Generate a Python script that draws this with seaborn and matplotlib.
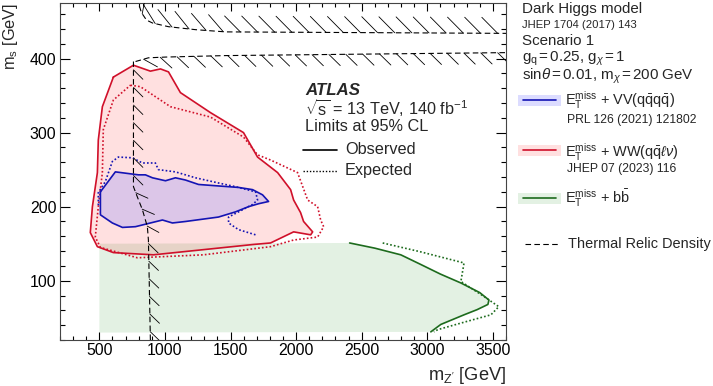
import matplotlib
matplotlib.use("Agg")
import matplotlib.pyplot as plt
import matplotlib.patheffects as pe
from matplotlib.patches import Rectangle
from matplotlib.lines import Line2D
from matplotlib.ticker import MultipleLocator
import seaborn as sns
import pandas as pd

# ---------------- data ----------------
# E_T^miss + WW(qq l nu): observed / expected contours
ww_obs_x = [607, 760, 889, 966, 1027, 1118, 1347, 1599, 1706, 1859, 1958, 1981, 2034, 2057,
            2126, 2111, 1981, 1805, 1676, 1294, 912, 607, 485, 431, 447, 485, 492, 523, 607]
ww_obs_y = [375, 391, 383, 386, 382, 354, 327, 300, 267, 246, 223, 209, 192, 180,
            166, 162, 166, 151, 149, 142, 135, 138, 146, 165, 200, 246, 290, 335, 375]
ww_exp_x = [737, 813, 1042, 1347, 1599, 1706, 1805, 2011, 2088, 2164, 2187, 2210, 2164, 1981,
            1805, 1294, 790, 508, 469, 492, 523, 530, 607, 737]
ww_exp_y = [364, 362, 335, 321, 294, 270, 263, 246, 209, 200, 182, 173, 159, 155,
            146, 135, 131, 145, 159, 200, 246, 304, 344, 364]

# E_T^miss + VV(qqqq): observed / expected contours
vv_obs_x = [508, 622, 798, 851, 905, 1004, 1080, 1156, 1256, 1408, 1561, 1668, 1744, 1790,
            1714, 1637, 1538, 1408, 1156, 1057, 981, 775, 676, 599, 508, 508]
vv_obs_y = [220, 247, 243, 243, 239, 235, 239, 236, 230, 228, 226, 223, 216, 207,
            204, 200, 193, 186, 180, 178, 182, 173, 172, 178, 189, 220]
vv_exp_x = [492, 492, 546, 599, 645, 752, 828, 927, 950, 1080, 1233, 1408, 1538, 1691,
            1706, 1668, 1561, 1485, 1485, 1561, 1691]
vv_exp_y = [202, 219, 234, 261, 267, 266, 259, 259, 250, 247, 239, 232, 227, 220,
            209, 203, 193, 186, 178, 169, 162]

# E_T^miss + bb: observed / expected contours
bb_obs_x = [2408, 2600, 2798, 2950, 3100, 3256, 3400, 3470, 3462, 3380, 3280, 3103, 3027]
bb_obs_y = [151, 144, 135, 122, 109, 97, 84, 74, 68, 61, 54, 41, 31]
bb_exp_x = [2660, 2950, 3280, 3256, 3430, 3545, 3485, 3300, 3080, 3050]
bb_exp_y = [151, 139, 124, 99, 79, 65, 54, 45, 34, 31]
bb_fill_x = [500, 500] + bb_obs_x
bb_fill_y = [30, 150] + bb_obs_y

# Thermal relic density curves
relic_a_x = [889, 874, 866, 828, 790, 760, 760]
relic_a_y = [20, 155, 173, 196, 213, 227, 396]
relic_b_x = [776, 874, 1004, 1462, 3600]
relic_b_y = [396, 401, 402, 404, 408]
relic_c_x = [805, 821, 859, 905, 1027, 1233, 1462, 3600]
relic_c_y = [471, 462, 452, 448, 443, 439, 436, 434]

x_ticks = [500, 1000, 1500, 2000, 2500, 3000, 3500]
y_ticks = [100, 200, 300, 400]

# ---------------- style ----------------
sns.set_theme(style="ticks")
plt.rcParams["font.family"] = ["Liberation Sans", "DejaVu Sans"]
plt.rcParams["mathtext.fontset"] = "custom"
plt.rcParams["mathtext.rm"] = "Liberation Sans"
plt.rcParams["mathtext.it"] = "Liberation Sans:italic"
plt.rcParams["mathtext.bf"] = "Liberation Sans:bold"

RED = "#d0102a"
BLUE = "#1414b4"
GREEN = "#1d6b1d"
RED_F = (1.0, 0.0, 0.0, 0.12)
BLUE_F = (0.5, 0.5, 1.0, 0.27)
GREEN_F = (0.0, 0.5, 0.0, 0.11)

W, H = 713, 386
fig = plt.figure(figsize=(W / 100, H / 100), dpi=100)
ax = fig.add_axes([60 / W, 1 - 340 / H, 446 / W, 337 / H])
renderer = fig.canvas.get_renderer()

def fx(px):
    return px / W

def fy(py):
    return 1 - py / H

def fit(artist, target, horizontal=True):
    """Scale a text's font size so its rendered extent matches the reference."""
    bb = artist.get_window_extent(renderer)
    size = bb.width if horizontal else bb.height
    artist.set_fontsize(artist.get_fontsize() * target / size)
    return artist

def ftext(px, py, s, target=None, size=10, **kw):
    t = fig.text(fx(px), fy(py), s, fontsize=size, va="baseline", **kw)
    if target is not None:
        fit(t, target)
    return t

# fills
ax.fill(bb_fill_x, bb_fill_y, color=GREEN_F, lw=0, zorder=1)
ax.fill(ww_obs_x, ww_obs_y, color=RED_F, lw=0, zorder=2)
ax.fill(vv_obs_x, vv_obs_y, color=BLUE_F, lw=0, zorder=3)

dot = (0, (1.0, 1.3))
def curve(x, y, color, ls, lw=1.2):
    df = pd.DataFrame({"x": x, "y": y})
    sns.lineplot(data=df, x="x", y="y", sort=False, estimator=None, color=color,
                 linestyle=ls, linewidth=lw, ax=ax, zorder=5)

curve(ww_obs_x, ww_obs_y, RED, "-")
curve(ww_exp_x, ww_exp_y, RED, dot)
curve(vv_obs_x, vv_obs_y, BLUE, "-")
curve(vv_exp_x, vv_exp_y, BLUE, dot)
curve(bb_obs_x, bb_obs_y, GREEN, "-")
curve(bb_exp_x, bb_exp_y, GREEN, dot)

# thermal relic: dashed line + hatch ticks
dash = (0, (5, 3))
for xs, ys, ang, ln in [(relic_a_x, relic_a_y, -135, 0.8),
                        (relic_b_x, relic_b_y, -45, 0.95),
                        (relic_c_x, relic_c_y, 135, 1.35)]:
    ax.plot(xs, ys, color="black", lw=0.8, ls=dash, zorder=6)
    ax.plot(xs, ys, color="none", lw=0.6, zorder=6,
            path_effects=[pe.TickedStroke(spacing=12, angle=ang, length=ln,
                                          foreground="black", linewidth=0.6)])

ax.set_xlim(200, 3600)
ax.set_ylim(20, 475)
ax.set_xticks(x_ticks)
ax.set_yticks(y_ticks)
ax.xaxis.set_minor_locator(MultipleLocator(100))
ax.yaxis.set_minor_locator(MultipleLocator(20))
ax.tick_params(which="both", direction="in", top=True, right=True, labelsize=11.4,
               color="black", labelcolor="black", pad=2.5)
ax.tick_params(axis="x", which="major", length=6, width=0.8)
ax.tick_params(axis="x", which="minor", length=3, width=0.8)
ax.tick_params(axis="y", which="major", length=7.5, width=0.8)
ax.tick_params(axis="y", which="minor", length=3.5, width=0.8)
for s in ax.spines.values():
    s.set_color("#444444")
    s.set_linewidth(0.8)

ax.set_xlabel(r"m$_{\mathrm{Z'}}$ [GeV]", fontsize=12, loc="right")
ax.set_ylabel(r"m$_{\mathrm{s}}$ [GeV]", fontsize=12, loc="top")
ax.xaxis.set_label_coords(1.0, -0.075)
ax.yaxis.set_label_coords(-0.09, 1.0)
fit(ax.xaxis.label, 78)
fit(ax.yaxis.label, 67, horizontal=False)

# in-plot text block
ftext(305, 95, "ATLAS", 55, fontweight="bold", style="italic")
lim = ftext(305, 131, "Limits at 95% CL", 123)
inner = lim.get_fontsize()
ftext(305, 115, r"$\sqrt{\mathrm{s}}$ = 13 TeV, 140 fb$^{-1}$", size=inner)
fig.add_artist(Line2D([fx(303), fx(337)], [fy(150), fy(150)], color="black", lw=1.2))
fig.add_artist(Line2D([fx(303), fx(337)], [fy(171), fy(171)], color="black", lw=1.0, ls=dot))
ftext(345, 154, "Observed", size=inner)
ftext(345, 175, "Expected", size=inner)

# right-hand legend
head = ftext(522, 13, "Dark Higgs model", 121).get_fontsize()
ftext(522, 28, "JHEP 1704 (2017) 143", 115)
ftext(522, 45, "Scenario 1", size=head)
ftext(522, 62, r"g$_{\mathrm{q}}\,$=$\,$0.25, g$_{\chi}\,$=$\,$1", size=head)
ftext(522, 80, r"sin$\theta\,$=$\,$0.01, m$_{\chi}\,$=$\,$200 GeV", size=head)

def entry(yc, fill, col):
    fig.add_artist(Rectangle((fx(518), fy(yc + 5.5)), 43 / W, 11 / H, transform=fig.transFigure,
                             facecolor=fill, edgecolor="none"))
    fig.add_artist(Line2D([fx(523), fx(556)], [fy(yc), fy(yc)], color=col, lw=1.2))

leg = ftext(568, 248, "Thermal Relic Density", 142).get_fontsize()
entry(100, BLUE_F, BLUE)
ftext(565, 105, r"E$_{\mathrm{T}}^{\mathrm{miss}}$ + VV(q$\bar{\mathrm{q}}$q$\bar{\mathrm{q}}$)", size=leg)
ref = ftext(567, 123, "PRL 126 (2021) 121802", 130).get_fontsize()
entry(150, RED_F, RED)
ftext(565, 157, r"E$_{\mathrm{T}}^{\mathrm{miss}}$ + WW(q$\bar{\mathrm{q}}\ell\nu$)", size=leg)
ftext(567, 172, "JHEP 07 (2023) 116", size=ref)
entry(198, GREEN_F, GREEN)
ftext(565, 203, r"E$_{\mathrm{T}}^{\mathrm{miss}}$ + b$\bar{\mathrm{b}}$", size=leg)
fig.add_artist(Line2D([fx(525), fx(560)], [fy(244), fy(244)], color="black", lw=0.8, ls=dash))

fig.savefig("out.png", dpi=100)
